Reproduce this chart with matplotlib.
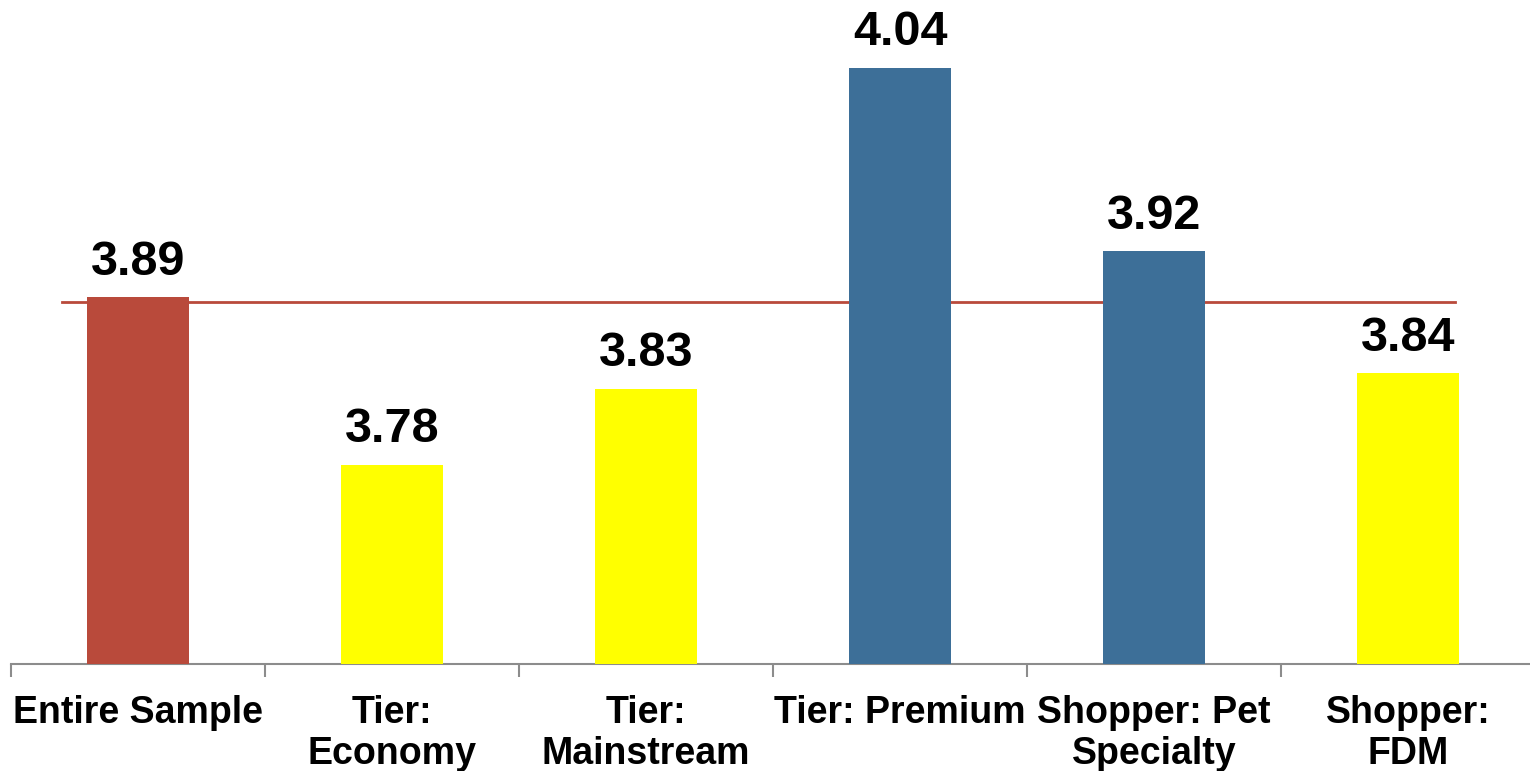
import matplotlib.pyplot as plt

categories = ["Entire Sample", "Tier:\nEconomy", "Tier:\nMainstream", "Tier: Premium",
              "Shopper: Pet\nSpecialty", "Shopper:\nFDM"]
values = [3.89, 3.78, 3.83, 4.04, 3.92, 3.84]
colors = ["#B94A3B", "#FFFF00", "#FFFF00", "#3D6F98", "#3D6F98", "#FFFF00"]
avg_line = 3.887

plt.rcParams['font.family'] = ['Liberation Sans', 'DejaVu Sans']
plt.rcParams['font.weight'] = 'bold'

fig = plt.figure(figsize=(15.3, 7.71), dpi=100)
ax = fig.add_axes([11 / 1530, 107.5 / 771, 1524 / 1530, 663.5 / 771])

x = list(range(len(categories)))
bars = ax.bar(x, values, width=0.4, color=colors, zorder=3)
ax.plot([-0.3, 5.185], [avg_line, avg_line], color="#B94A3B", lw=2, zorder=2)

for xi, v in zip(x, values):
    ax.annotate(f"{v:.2f}", (xi, v), xytext=(0, 9), textcoords="offset points",
                ha="center", va="bottom", fontsize=35, fontweight="bold")

ax.set_xlim(-0.5, 5.5)
ax.set_ylim(3.65, 4.0845)

for s in ["top", "right", "left"]:
    ax.spines[s].set_visible(False)
ax.spines["bottom"].set_color("#8c8c8c")
ax.spines["bottom"].set_linewidth(1.5)

ax.set_yticks([])
ax.set_xticks(x)
ax.set_xticklabels(categories, fontsize=27, fontweight="bold", linespacing=1.15)
ax.tick_params(axis="x", which="major", length=0, pad=23)
ax.set_xticks([i - 0.5 for i in range(len(categories) + 1)], minor=True)
ax.tick_params(axis="x", which="minor", length=9, width=1.5, color="#8c8c8c")

fig.savefig("out.png", dpi=100)
